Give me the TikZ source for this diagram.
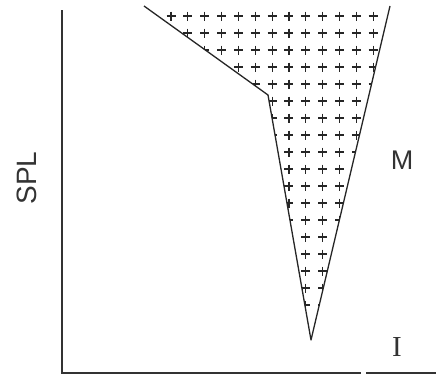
\documentclass[tikz,border=0pt]{standalone}
\usepackage{fontspec}
\newfontfamily\labelsans{Liberation Sans}
\newfontfamily\labelserif{Liberation Serif}
\tikzset{
  outline/.style={draw=black!85, line width=1.3pt, line join=round},
  axisline/.style={draw=black!80, line width=1.1pt},
  plusmark/.style={draw=black!85, line width=1.1pt},
  lbl/.style={inner sep=0pt, text=black!80}
}
\begin{document}
\begin{tikzpicture}[x=1pt,y=-1pt]
\useasboundingbox (0,0) rectangle (436,375);
% polygon corners
\coordinate (tl) at (144,6);
\coordinate (kink) at (268,95);
\coordinate (apex) at (311,340);
\coordinate (tr) at (390,6);
% plus grid clipped to region
\begin{scope}
  \clip (tl) -- (kink) -- (apex) -- (tr) -- cycle;
  \foreach \j in {0,...,17} {
    \foreach \i in {0,...,12} {
      \pgfmathsetmacro{\px}{171+16.85*\i}
      \pgfmathsetmacro{\py}{16+17.0*\j}
      \draw[plusmark] (\px-4.5,\py) -- (\px+4.5,\py) (\px,\py-4.5) -- (\px,\py+4.5);
    }
  }
\end{scope}
\draw[outline] (tl) -- (kink) -- (apex) -- (tr);
% axes
\coordinate (ytop) at (62,10);
\coordinate (origin) at (62,373);
\coordinate (xgap1) at (361,373);
\coordinate (xgap2) at (366,373);
\coordinate (xend) at (436,373);
\draw[axisline] (ytop) -- (origin) -- (xgap1);
\draw[axisline] (xgap2) -- (xend);
% labels
\node[lbl, rotate=90, font=\labelsans\fontsize{28}{30}\selectfont] (spl) at (27,178) {SPL};
\node[lbl, font=\labelsans\fontsize{27}{30}\selectfont] (m) at (402,160) {M};
\node[lbl, font=\labelserif\fontsize{29}{32}\selectfont] (i) at (397,347) {I};
\end{tikzpicture}
\end{document}
